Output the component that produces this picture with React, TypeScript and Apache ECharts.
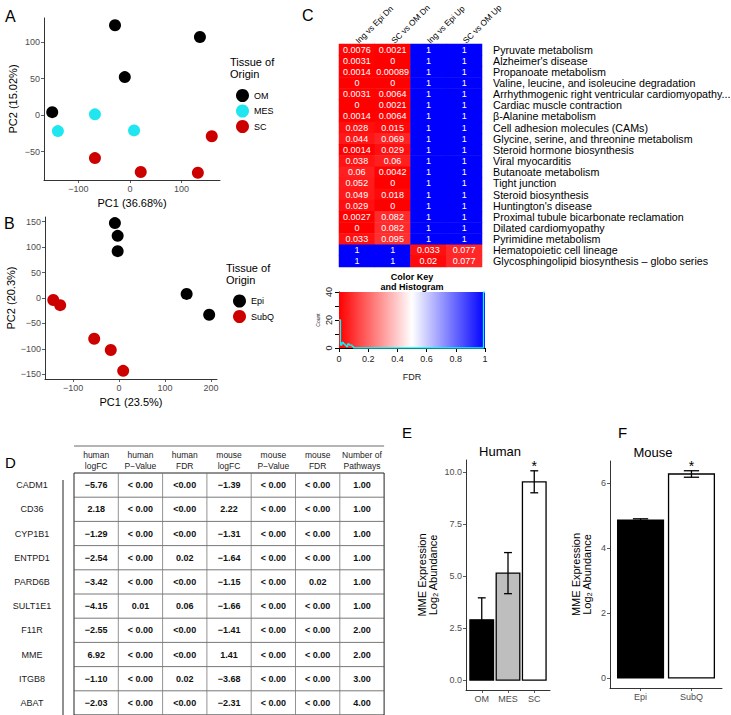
import React, { useEffect, useRef } from "react";
import * as echarts from "echarts";

const SANS = "'Liberation Sans', Arial, Helvetica, sans-serif";

// ---------- Panel A : PCA human ----------
const pcaA_OM = [[-29, 123], [136, 107], [-10, 52], [-151, 4]];
const pcaA_MES = [[-140, -22], [-68, 1], [8, -21]];
const pcaA_SC = [[-68, -59], [21, -78], [132, -79], [159, -29]];
const pcaA_xTicks = [-100, 0, 100];
const pcaA_yTicks = [-50, 0, 50, 100];

// ---------- Panel B : PCA mouse ----------
const pcaB_Epi = [[-9, 147], [-3, 122], [-3, 92], [147, 8], [196, -33]];
const pcaB_SubQ = [[-143, -4], [-128, -14], [-54, -80], [-18, -102], [9, -143]];
const pcaB_xTicks = [-100, 0, 100, 200];
const pcaB_yTicks = [-150, -100, -50, 0, 50, 100, 150];

// ---------- Panel C : pathway heatmap ----------
const heatCols = ["Ing vs Epi Dn", "SC vs OM Dn", "Ing vs Epi Up", "SC vs OM Up"];
const pathways = [
  "Pyruvate metabolism",
  "Alzheimer's disease",
  "Propanoate metabolism",
  "Valine, leucine, and isoleucine degradation",
  "Arrhythmogenic right ventricular cardiomyopathy...",
  "Cardiac muscle contraction",
  "β-Alanine metabolism",
  "Cell adhesion molecules (CAMs)",
  "Glycine, serine, and threonine metabolism",
  "Steroid hormone biosynthesis",
  "Viral myocarditis",
  "Butanoate metabolism",
  "Tight junction",
  "Steroid biosynthesis",
  "Huntington's disease",
  "Proximal tubule bicarbonate reclamation",
  "Dilated cardiomyopathy",
  "Pyrimidine metabolism",
  "Hematopoietic cell lineage",
  "Glycosphingolipid biosynthesis – globo series",
];
const fdrIngEpiDn = [0.0076, 0.0031, 0.0014, 0, 0.0031, 0, 0.0014, 0.028, 0.044, 0.0014, 0.038, 0.06, 0.052, 0.049, 0.029, 0.0027, 0, 0.033, 1, 1];
const fdrScOmDn = [0.0021, 0, 0.00089, 0, 0.0064, 0.0021, 0.0064, 0.015, 0.069, 0.029, 0.06, 0.0042, 0, 0.018, 0, 0.082, 0.082, 0.095, 1, 1];
const fdrIngEpiUp = [1, 1, 1, 1, 1, 1, 1, 1, 1, 1, 1, 1, 1, 1, 1, 1, 1, 1, 0.033, 0.02];
const fdrScOmUp = [1, 1, 1, 1, 1, 1, 1, 1, 1, 1, 1, 1, 1, 1, 1, 1, 1, 1, 0.077, 0.077];
const fdrTicks = [0, 0.2, 0.4, 0.6, 0.8, 1];
const countTicks = [0, 10, 20, 30, 40];

// ---------- Panel D : table ----------
const tableHeaders = ["human\nlogFC", "human\nP−Value", "human\nFDR", "mouse\nlogFC", "mouse\nP−Value", "mouse\nFDR", "Number of\nPathways"];
const genes = ["CADM1", "CD36", "CYP1B1", "ENTPD1", "PARD6B", "SULT1E1", "F11R", "MME", "ITGB8", "ABAT"];
const humanLogFC = ["−5.76", "2.18", "−1.29", "−2.54", "−3.42", "−4.15", "−2.55", "6.92", "−1.10", "−2.03"];
const humanPValue = ["< 0.00", "< 0.00", "< 0.00", "< 0.00", "< 0.00", "0.01", "< 0.00", "< 0.00", "< 0.00", "< 0.00"];
const humanFDR = ["<0.00", "<0.00", "<0.00", "0.02", "<0.00", "0.06", "<0.00", "<0.00", "0.02", "<0.00"];
const mouseLogFC = ["−1.39", "2.22", "−1.31", "−1.64", "−1.15", "−1.66", "−1.41", "1.41", "−3.68", "−2.31"];
const mousePValue = ["< 0.00", "< 0.00", "< 0.00", "< 0.00", "< 0.00", "< 0.00", "< 0.00", "< 0.00", "< 0.00", "< 0.00"];
const mouseFDR = ["< 0.00", "< 0.00", "< 0.00", "< 0.00", "0.02", "< 0.00", "< 0.00", "< 0.00", "< 0.00", "< 0.00"];
const numPathways = ["1.00", "1.00", "1.00", "1.00", "1.00", "1.00", "2.00", "2.00", "3.00", "4.00"];

// ---------- Panel E : human MME ----------
const humanGroups = ["OM", "MES", "SC"];
const humanMean = [2.9, 5.15, 9.55];
const humanErr = [1.06, 0.99, 0.53];
const humanSig = [false, false, true];
const humanYTicks = [0, 2.5, 5, 7.5, 10];
const humanFill = ["#000000", "#bebebe", "#ffffff"];

// ---------- Panel F : mouse MME ----------
const mouseGroups = ["Epi", "SubQ"];
const mouseMean = [4.86, 6.28];
const mouseErr = [0.04, 0.1];
const mouseSig = [false, true];
const mouseYTicks = [0, 2, 4, 6];
const mouseFill = ["#000000", "#ffffff"];

const minus = (v: number) => (v < 0 ? "−" + Math.abs(v) : String(v));
const tickLabel = { fontSize: 9, color: "#4d4d4d", fontFamily: SANS };

function ggValueAxis(gridIndex: number, min: number, max: number, ticks: number[], fmt: (v: number) => string, extra: any = {}) {
  return {
    type: "value",
    gridIndex,
    min,
    max,
    splitLine: { show: false },
    axisLine: { show: true, onZero: false, lineStyle: { color: "#000", width: 0.8 } },
    axisTick: { show: true, length: 3, customValues: ticks, lineStyle: { color: "#333", width: 0.8 } },
    axisLabel: { ...tickLabel, margin: 4, customValues: ticks, formatter: fmt },
    nameTextStyle: { fontSize: 11, color: "#000", fontFamily: SANS },
    ...extra,
  };
}

function histogram(values: number[]) {
  const nb = 100;
  const counts = new Array(nb).fill(0);
  values.forEach((v) => {
    counts[Math.min(nb - 1, Math.floor(v * nb + 1e-9))]++;
  });
  const pts: number[][] = [];
  counts.forEach((c, b) => {
    pts.push([b / nb, c]);
    pts.push([(b + 1) / nb, c]);
  });
  return pts;
}

function barRender(fills: string[]) {
  return (params: any, api: any) => {
    const x = api.value(0);
    const y = api.value(1);
    const p0 = api.coord([x - 0.45, y]);
    const p1 = api.coord([x + 0.45, 0]);
    return {
      type: "rect",
      shape: { x: p0[0], y: p0[1], width: p1[0] - p0[0], height: p1[1] - p0[1] },
      style: { fill: fills[params.dataIndex], stroke: "#000", lineWidth: 1.3 },
    };
  };
}

function errRender(sig: boolean[]) {
  return (params: any, api: any) => {
    const x = api.value(0);
    const m = api.value(1);
    const e = api.value(2);
    const top = api.coord([x, m + e]);
    const bot = api.coord([x, m - e]);
    const hw = api.size([0.15, 0])[0];
    const ls = { stroke: "#000", lineWidth: 1.3 };
    const children: any[] = [
      { type: "line", shape: { x1: top[0], y1: top[1], x2: bot[0], y2: bot[1] }, style: ls },
      { type: "line", shape: { x1: top[0] - hw, y1: top[1], x2: top[0] + hw, y2: top[1] }, style: ls },
      { type: "line", shape: { x1: bot[0] - hw, y1: bot[1], x2: bot[0] + hw, y2: bot[1] }, style: ls },
    ];
    if (sig[params.dataIndex]) {
      children.push({
        type: "text",
        x: top[0],
        y: top[1] - 5,
        style: { text: "*", fontSize: 14, fontFamily: SANS, fill: "#000", align: "center", verticalAlign: "middle" },
      });
    }
    return { type: "group", children };
  };
}

function buildTable() {
  const els: any[] = [];
  const x0 = 74, cw = 44.3, top = 473, rh = 24.2, hdrTop = 446;
  const nc = tableHeaders.length;
  const cols = [humanLogFC, humanPValue, humanFDR, mouseLogFC, mousePValue, mouseFDR, numPathways];
  const right = x0 + nc * cw;
  els.push({ type: "line", shape: { x1: x0, y1: hdrTop, x2: right, y2: hdrTop }, style: { stroke: "#444", lineWidth: 0.8 } });
  tableHeaders.forEach((h, j) => {
    els.push({
      type: "text", x: x0 + (j + 0.5) * cw, y: hdrTop + 14,
      style: { text: h, align: "center", verticalAlign: "middle", fontSize: 8.5, lineHeight: 11, fill: "#222", fontFamily: SANS },
    });
  });
  els.push({ type: "rect", shape: { x: x0, y: top, width: nc * cw, height: genes.length * rh }, style: { fill: "none", stroke: "#222", lineWidth: 1 } });
  for (let i = 1; i < genes.length; i++) {
    els.push({ type: "line", shape: { x1: x0, y1: top + i * rh, x2: right, y2: top + i * rh }, style: { stroke: "#555", lineWidth: 0.8 } });
  }
  for (let j = 1; j < nc; j++) {
    els.push({ type: "line", shape: { x1: x0 + j * cw, y1: top, x2: x0 + j * cw, y2: top + genes.length * rh }, style: { stroke: "#777", lineWidth: 0.8 } });
  }
  els.push({ type: "line", shape: { x1: 63, y1: 480, x2: 63, y2: 715 }, style: { stroke: "#222", lineWidth: 1 } });
  genes.forEach((g, i) => {
    const cy = top + (i + 0.5) * rh;
    els.push({ type: "text", x: 32, y: cy, style: { text: g, align: "center", verticalAlign: "middle", fontSize: 9, fill: "#222", fontFamily: SANS } });
    cols.forEach((col, j) => {
      els.push({
        type: "text", x: x0 + (j + 0.5) * cw, y: cy,
        style: { text: col[i], align: "center", verticalAlign: "middle", fontSize: 9, fontWeight: "bold", fill: "#111", fontFamily: SANS },
      });
    });
  });
  return els;
}

function txt(text: string, x: number, y: number, fontSize: number, extra: any = {}) {
  return { type: "text", x, y, style: { text, fontSize, fontFamily: SANS, fill: "#000", verticalAlign: "middle", ...extra } };
}

function buildOption() {
  const heatData: any[] = [];
  const heatCols2 = [fdrIngEpiDn, fdrScOmDn, fdrIngEpiUp, fdrScOmUp];
  pathways.forEach((_, r) => heatCols2.forEach((col, c) => heatData.push([c, r, col[r]])));
  const hist = histogram([...fdrIngEpiDn, ...fdrScOmDn, ...fdrIngEpiUp, ...fdrScOmUp]);
  const g = (left: number, top: number, width: number, height: number) => ({ left, top, width, height, outerBoundsMode: "none", containLabel: false });

  return {
    animation: false,
    backgroundColor: "#ffffff",
    textStyle: { fontFamily: SANS },
    grid: [
      g(44, 18, 176, 162),
      g(45, 217, 172, 162),
      g(339, 44, 143, 223),
      g(339, 292, 146, 56),
      g(466, 460, 84, 230),
      g(610, 461, 112, 227),
    ],
    xAxis: [
      ggValueAxis(0, -167, 175, pcaA_xTicks, minus, { name: "PC1 (36.68%)", nameLocation: "middle", nameGap: 17 }),
      ggValueAxis(1, -161, 213, pcaB_xTicks, minus, { name: "PC1 (23.5%)", nameLocation: "middle", nameGap: 17 }),
      {
        type: "category", gridIndex: 2, data: heatCols, position: "top",
        axisLine: { show: false }, axisTick: { show: false },
        axisLabel: { rotate: -45, interval: 0, align: "left", verticalAlign: "middle", fontSize: 8.3, color: "#000", margin: 2, fontFamily: SANS },
      },
      {
        type: "value", gridIndex: 3, min: 0, max: 1, splitLine: { show: false },
        axisLine: { show: true, onZero: false, lineStyle: { color: "#000", width: 1 } },
        axisTick: { show: true, length: 4, customValues: fdrTicks, lineStyle: { color: "#000" } },
        axisLabel: { customValues: fdrTicks, fontSize: 9, color: "#222", margin: 6, formatter: (v: number) => String(Math.round(v * 10) / 10) },
        name: "FDR", nameLocation: "middle", nameGap: 24, nameTextStyle: { fontSize: 9, color: "#222" },
      },
      ggValueAxis(4, 0.4, 3.6, [1, 2, 3], (v: number) => humanGroups[Math.round(v) - 1] || ""),
      ggValueAxis(5, 0.4, 2.6, [1, 2], (v: number) => mouseGroups[Math.round(v) - 1] || ""),
    ],
    yAxis: [
      ggValueAxis(0, -89, 133, pcaA_yTicks, minus, { name: "PC2 (15.02%)", nameLocation: "middle", nameGap: 26, nameRotate: 90 }),
      ggValueAxis(1, -159, 159, pcaB_yTicks, minus, { name: "PC2 (20.3%)", nameLocation: "middle", nameGap: 28, nameRotate: 90 }),
      {
        type: "category", gridIndex: 2, data: pathways, inverse: true, position: "right",
        axisLine: { show: false }, axisTick: { show: false },
        axisLabel: { interval: 0, fontSize: 10.7, color: "#000", margin: 11, fontFamily: SANS },
      },
      {
        type: "value", gridIndex: 3, min: 0, max: 40, splitLine: { show: false },
        axisLine: { show: true, lineStyle: { color: "#000", width: 1 } },
        axisTick: { show: true, length: 4, customValues: countTicks, lineStyle: { color: "#000" } },
        axisLabel: { customValues: [0, 20, 40], rotate: 90, fontSize: 9, color: "#222", margin: 6 },
        name: "Count", nameLocation: "middle", nameGap: 19, nameRotate: 90, nameTextStyle: { fontSize: 5, color: "#222" },
      },
      ggValueAxis(4, -0.48, 10.6, humanYTicks, (v: number) => v.toFixed(1), {
        name: "MME Expression\nLog₂ Abundance", nameLocation: "middle", nameGap: 28, nameRotate: 90,
        nameTextStyle: { fontSize: 11, color: "#000", lineHeight: 11, fontFamily: SANS },
      }),
      ggValueAxis(5, -0.31, 6.68, mouseYTicks, (v: number) => String(v), {
        name: "MME Expression\nLog₂ Abundance", nameLocation: "middle", nameGap: 18, nameRotate: 90,
        nameTextStyle: { fontSize: 11, color: "#000", lineHeight: 11, fontFamily: SANS },
      }),
    ],
    legend: [
      {
        data: ["OM", "MES", "SC"], orient: "vertical", left: 231, top: 84, icon: "circle",
        itemWidth: 13, itemHeight: 13, itemGap: 2.5, selectedMode: false,
        textStyle: { fontSize: 9, color: "#000", fontFamily: SANS },
      },
      {
        data: ["Epi", "SubQ"], orient: "vertical", left: 228, top: 289.5, icon: "circle",
        itemWidth: 13, itemHeight: 13, itemGap: 2.5, selectedMode: false,
        textStyle: { fontSize: 9, color: "#000", fontFamily: SANS },
      },
    ],
    visualMap: {
      type: "continuous", show: false, min: 0, max: 1, dimension: 2, seriesIndex: 5,
      inRange: { color: ["#ff0000", "#ffffff", "#0000ff"] },
    },
    series: [
      { type: "scatter", name: "OM", xAxisIndex: 0, yAxisIndex: 0, data: pcaA_OM, symbolSize: 12, itemStyle: { color: "#000000", opacity: 1 } },
      { type: "scatter", name: "MES", xAxisIndex: 0, yAxisIndex: 0, data: pcaA_MES, symbolSize: 12, itemStyle: { color: "#20e6f0", opacity: 1 } },
      { type: "scatter", name: "SC", xAxisIndex: 0, yAxisIndex: 0, data: pcaA_SC, symbolSize: 12, itemStyle: { color: "#cd0000", opacity: 1 } },
      { type: "scatter", name: "Epi", xAxisIndex: 1, yAxisIndex: 1, data: pcaB_Epi, symbolSize: 12, itemStyle: { color: "#000000", opacity: 1 } },
      { type: "scatter", name: "SubQ", xAxisIndex: 1, yAxisIndex: 1, data: pcaB_SubQ, symbolSize: 12, itemStyle: { color: "#cd0000", opacity: 1 } },
      {
        type: "heatmap", xAxisIndex: 2, yAxisIndex: 2, data: heatData,
        label: { show: true, color: "#fff", fontSize: 9, fontFamily: SANS, formatter: (p: any) => String(p.value[2]) },
        itemStyle: { borderWidth: 0 },
      },
      {
        type: "line", xAxisIndex: 3, yAxisIndex: 3, data: hist, showSymbol: false, symbol: "none",
        lineStyle: { color: "#00ffff", width: 1.3 },
        markArea: {
          silent: true,
          itemStyle: {
            color: new echarts.graphic.LinearGradient(0, 0, 1, 0, [
              { offset: 0, color: "#ff0000" },
              { offset: 0.5, color: "#ffffff" },
              { offset: 1, color: "#0000ff" },
            ]),
          },
          data: [[{ xAxis: 0, yAxis: 0 }, { xAxis: 1, yAxis: 40 }]],
        },
      },
      {
        type: "custom", xAxisIndex: 4, yAxisIndex: 4,
        data: humanMean.map((m, i) => [i + 1, m]),
        renderItem: barRender(humanFill),
      },
      {
        type: "custom", xAxisIndex: 4, yAxisIndex: 4,
        data: humanMean.map((m, i) => [i + 1, m, humanErr[i]]),
        renderItem: errRender(humanSig),
      },
      {
        type: "custom", xAxisIndex: 5, yAxisIndex: 5,
        data: mouseMean.map((m, i) => [i + 1, m]),
        renderItem: barRender(mouseFill),
      },
      {
        type: "custom", xAxisIndex: 5, yAxisIndex: 5,
        data: mouseMean.map((m, i) => [i + 1, m, mouseErr[i]]),
        renderItem: errRender(mouseSig),
      },
    ],
    graphic: [
      txt("A", 5, 16, 16),
      txt("B", 4, 223, 16),
      txt("C", 302, 15, 16),
      txt("D", 5, 462, 15),
      txt("E", 402, 432, 15),
      txt("F", 618, 432, 15),
      txt("Tissue of", 230, 62, 11),
      txt("Origin", 230, 74, 11),
      txt("Tissue of", 226, 268, 11),
      txt("Origin", 226, 280, 11),
      txt("Human", 500, 451, 13, { align: "center" }),
      txt("Mouse", 653, 452, 13, { align: "center" }),
      txt("Color Key", 412, 277, 9, { align: "center", fontWeight: "bold" }),
      txt("and Histogram", 412, 287, 9, { align: "center", fontWeight: "bold" }),
      ...buildTable(),
    ],
  };
}

export default function App() {
  const ref = useRef<HTMLDivElement>(null);
  useEffect(() => {
    document.body.style.margin = "0";
    const chart = echarts.init(ref.current!, null, { renderer: "svg" });
    chart.setOption(buildOption() as any);
    return () => chart.dispose();
  }, []);
  return <div ref={ref} style={{ width: 731, height: 715 }} />;
}
